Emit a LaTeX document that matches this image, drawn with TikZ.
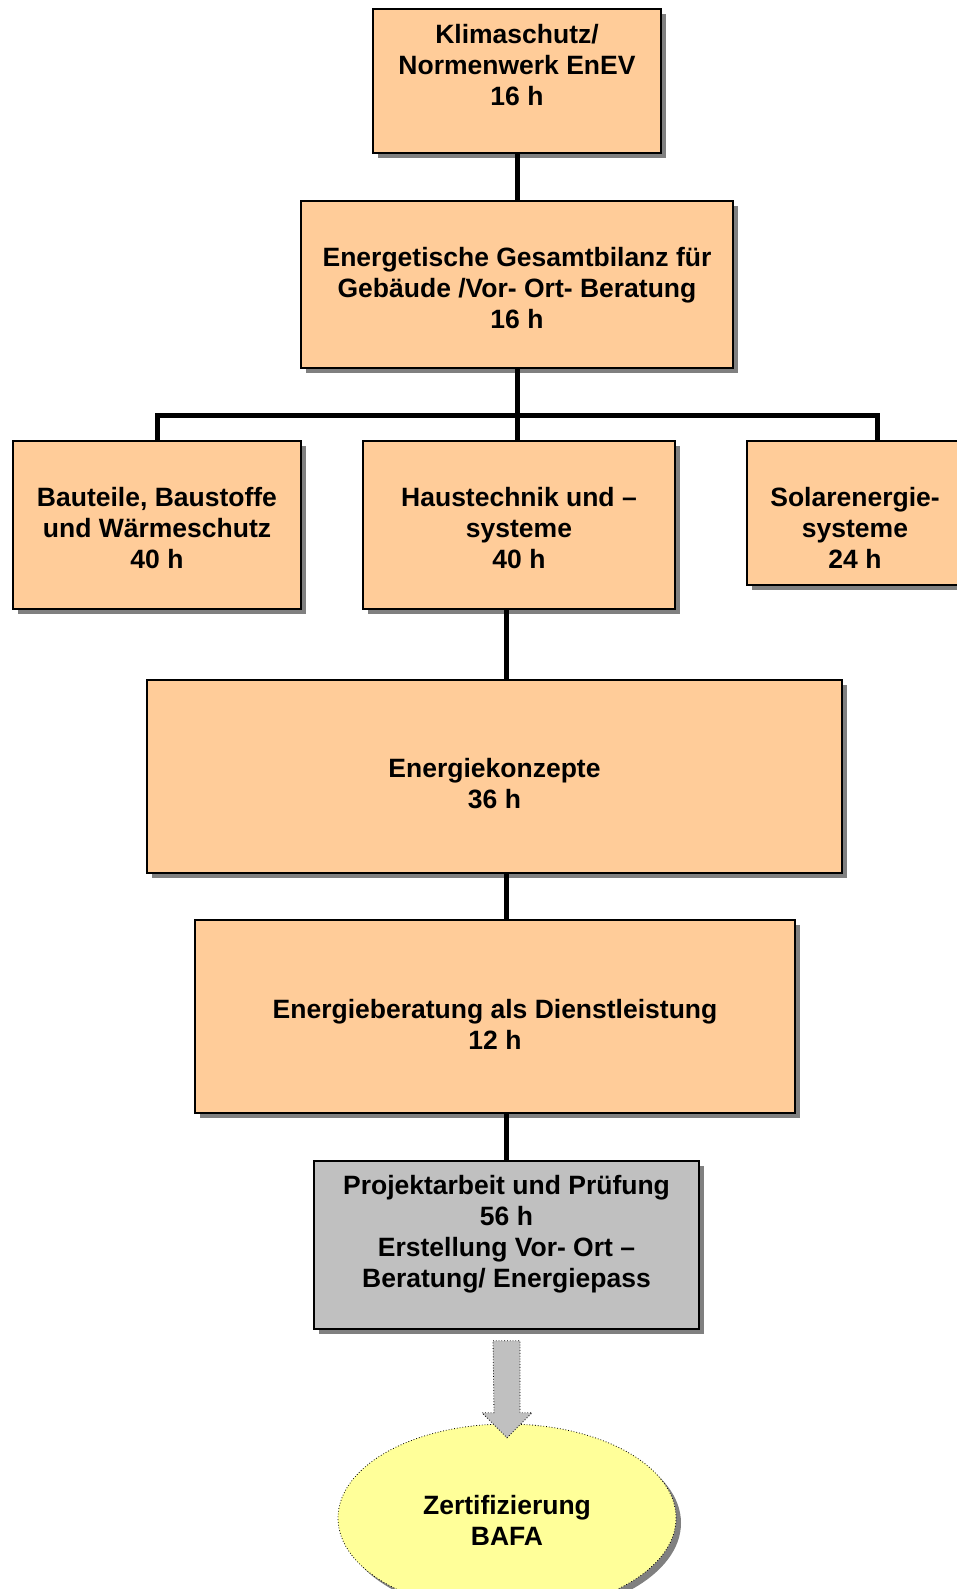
\documentclass[tikz,border=0pt]{standalone}
\usepackage{fontspec}
\setmainfont{Liberation Sans}
\usetikzlibrary{positioning, shapes.geometric, shadows}
\definecolor{peach}{HTML}{FFCC99}
\definecolor{boxgray}{HTML}{C0C0C0}
\definecolor{paleyellow}{HTML}{FFFF99}
\definecolor{shadowgray}{HTML}{808080}
\tikzset{box/.style={draw, line width=1.5pt, fill=peach, % the course modules
drop shadow={shadow xshift=5pt, shadow yshift=-5pt, fill=shadowgray, opacity=1}}, % hard grey shadow
greybox/.style={box, fill=boxgray}, % project work box
txt/.style={align=center, font=\fontsize{26.5}{31}\selectfont\bfseries}, % bold labels
conn/.style={line width=5pt}, % thick black connectors
bigarrow/.style={draw, dotted, line width=0.8pt, fill=boxgray}, % block arrow to the certificate
}

\begin{document}
\begin{tikzpicture}[x=1pt, y=-1pt]
  \useasboundingbox (0,0) rectangle (957,1589);

  \node[box, minimum width=288pt, minimum height=144pt] (klima) at (517,81) {};
  \node[box, minimum width=432pt, minimum height=167pt] (bilanz) at (517,284.5) {};
  \node[box, minimum width=288pt, minimum height=168pt] (bauteile) at (157,525) {};
  \node[box, minimum width=312pt, minimum height=168pt] (haus) at (519,525) {};
  \node[box, minimum width=216pt, minimum height=144pt] (solar) at (855,513) {};
  \node[box, minimum width=695pt, minimum height=193pt] (konzepte) at (494.5,776.5) {};
  \node[box, minimum width=600pt, minimum height=193pt] (beratung) at (495,1016.5) {};
  \node[greybox, minimum width=385pt, minimum height=168pt] (pruef) at (506.5,1245) {};
  \node[ellipse, draw, dotted, line width=0.8pt, fill=paleyellow,
        drop shadow={shadow xshift=5pt, shadow yshift=-5pt, fill=shadowgray, opacity=1},
        minimum width=338pt, minimum height=188pt] (zert) at (507,1518) {};

  \node[txt] (klimaT) at ([yshift=16pt]klima.center) {Klimaschutz/\\Normenwerk EnEV\\16 h};
  \node[txt] (bilanzT) at ([yshift=-3.5pt]bilanz.center) {Energetische Gesamtbilanz für\\Gebäude /Vor- Ort- Beratung\\16 h};
  \node[txt] (bauteileT) at ([yshift=-3pt]bauteile.center) {Bauteile, Baustoffe\\und Wärmeschutz\\40 h};
  \node[txt] (hausT) at ([yshift=-3pt]haus.center) {Haustechnik und –\\systeme\\40 h};
  \node[txt] (solarT) at ([yshift=-15pt]solar.center) {Solarenergie-\\systeme\\24 h};
  \node[txt] (konzepteT) at ([yshift=-7.5pt]konzepte.center) {Energiekonzepte\\36 h};
  \node[txt] (beratungT) at ([yshift=-8pt]beratung.center) {Energieberatung als Dienstleistung\\12 h};
  \node[txt] (pruefT) at ([yshift=11pt]pruef.center) {Projektarbeit und Prüfung\\56 h\\Erstellung Vor- Ort –\\Beratung/ Energiepass};
  \node[txt] (zertT) at ([yshift=-2pt]zert.center) {Zertifizierung\\BAFA};

  \draw[conn] (klima) -- (bilanz);
  \draw[conn] (bilanz.south) -- (haus.north -| bilanz.south);
  \draw[conn] (bauteile.north) -- ++(0,-25) -| ([xshift=22pt]solar.north);
  \draw[conn] (haus.south -| pruef.north) -- (konzepte.north -| pruef.north);
  \draw[conn] (konzepte.south -| pruef.north) -- (beratung.north -| pruef.north);
  \draw[conn] (beratung.south -| pruef.north) -- (pruef.north);

  \draw[bigarrow] ([yshift=-11pt]pruef.south) ++(-13.5,0) -- ++(27,0) -- ++(0,72)
    -- ++(12,0) -- ++(-25,25) -- ++(-25,-25) -- ++(12,0) -- cycle;

\end{tikzpicture}
\end{document}
